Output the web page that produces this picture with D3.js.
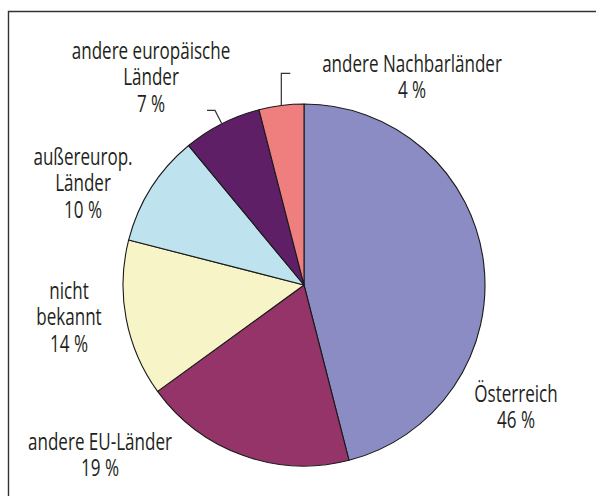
<!DOCTYPE html>
<html>
<head>
<meta charset="utf-8">
<script src="https://cdn.jsdelivr.net/npm/d3@7"></script>
<style>
  html, body { margin: 0; padding: 0; background: #fff; }
  svg { display: block; }
  text { font-family: "Open Sans", "DejaVu Sans Condensed", sans-serif; fill: #231f20; }
</style>
</head>
<body>
<svg id="chart"></svg>
<script>
// data
const categories = ["Österreich", "andere EU-Länder", "nicht bekannt", "außereurop. Länder", "andere europäische Länder", "andere Nachbarländer"];
const shares = [46, 19, 14, 10, 7, 4];
const colors = ["#8b8cc4", "#953468", "#f7f5c8", "#bfe3ee", "#5e1f66", "#ef7f7f"];
// label lines (text broken as in the original)
const labelLines = [
    ["Österreich"],
    ["andere EU-Länder"],
    ["nicht", "bekannt"],
    ["außereurop.", "Länder"],
    ["andere europäische", "Länder"],
    ["andere Nachbarländer"]
];

const width = 596;
const height = 496;
const cx = 304, cy = 285, radius = 181;

// where each label block sits (x centre, baseline of first line)
const labelPos = [
    [516, 402], [100, 450], [69, 299], [83, 165], [151, 59], [412, 72]
];
const lineHeight = 26.5;
const squeeze = 0.71;   // condensed look

const svg = d3.select("#chart").attr("width", width).attr("height", height);

// frame
svg.append("path")
    .attr("d", `M8.5,${height + 5}V11.5H${width + 5}`)
    .attr("fill", "none")
    .attr("stroke", "#333")
    .attr("stroke-width", 1.4);

const data = categories.map((c, i) => ({ name: c, value: shares[i], color: colors[i], lines: labelLines[i], pos: labelPos[i] }));

const pie = d3.pie().value(d => d.value).sort(null);
const arc = d3.arc().innerRadius(0).outerRadius(radius);
const arcs = pie(data);

const g = svg.append("g").attr("transform", `translate(${cx},${cy})`);

g.selectAll("path")
    .data(arcs)
    .join("path")
    .attr("d", arc)
    .attr("fill", d => d.data.color)
    .attr("stroke", "#1a1a1a")
    .attr("stroke-width", 1.1)
    .attr("stroke-linejoin", "round");

// leader lines for the two small slices
function edgePoint(a, r) {
    const ang = (a.startAngle + a.endAngle) / 2;
    return [r * Math.sin(ang), -r * Math.cos(ang)];
}
const nach = arcs[5], euro = arcs[4];
const p1 = edgePoint(nach, radius);
const e1 = edgePoint(euro, radius);
const e2 = edgePoint(euro, radius + 15);

g.append("path")
    .attr("d", `M${p1[0]},${p1[1]}V${p1[1] - 32}h9`)
    .attr("fill", "none").attr("stroke", "#333").attr("stroke-width", 1.2);
g.append("path")
    .attr("d", `M${e1[0]},${e1[1]}L${e2[0]},${e2[1]}h-8`)
    .attr("fill", "none").attr("stroke", "#333").attr("stroke-width", 1.2);

// labels
const labels = svg.append("g").selectAll("text")
    .data(arcs)
    .join("text")
    .attr("text-anchor", "middle")
    .attr("font-size", 24)
    .attr("font-weight", 500)
    .attr("transform", d => `translate(${d.data.pos[0]},${d.data.pos[1]}) scale(${squeeze},1)`);

labels.each(function(d) {
    const t = d3.select(this);
    const lines = d.data.lines.concat([d.data.value + " %"]);
    lines.forEach((l, i) => {
        t.append("tspan")
            .attr("x", 0)
            .attr("dy", i === 0 ? 0 : lineHeight)
            .text(l);
    });
});
</script>
</body>
</html>
